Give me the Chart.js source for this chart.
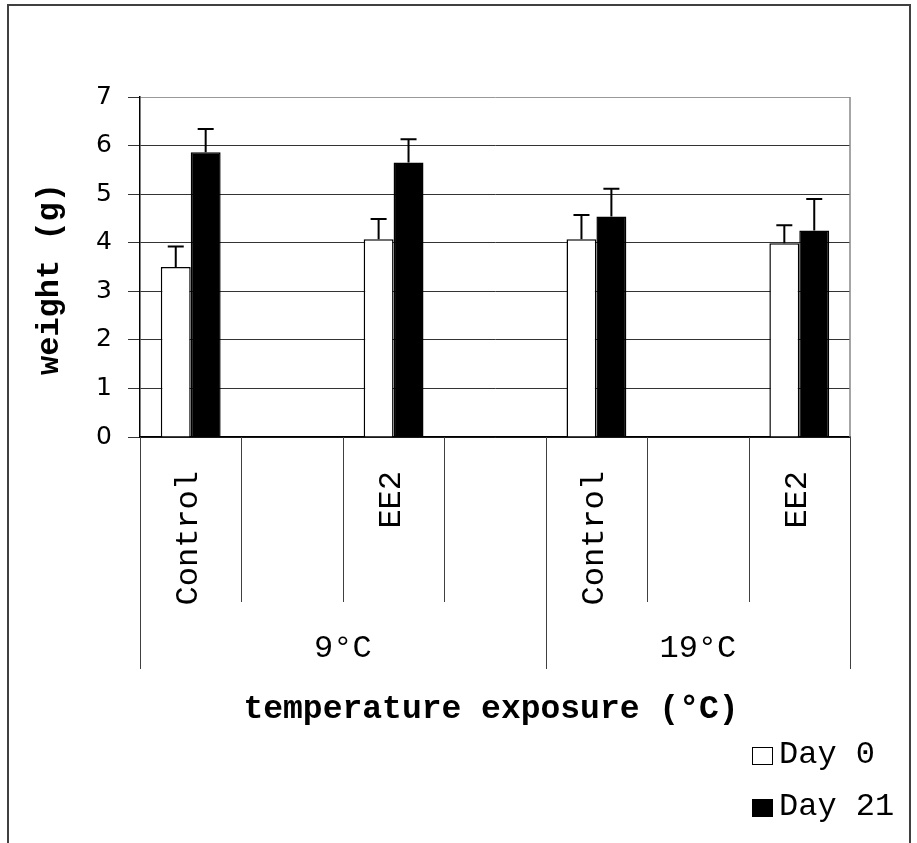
<!DOCTYPE html>
<html>
<head>
<meta charset="utf-8">
<script src="https://cdn.jsdelivr.net/npm/chart.js@4"></script>
<style>
  body { margin: 0; background: #fff; }
</style>
</head>
<body>
<canvas id="weightChart" width="917" height="843"></canvas>
<script>
// Excel-style layout: blank rows between treatments
const treatments = ["Control", "", "EE2", "", "Control", "", "EE2"];
const temperatures = ["9°C", "", "", "", "19°C", "", ""];

const day0 = [3.5, null, 4.07, null, 4.07, null, 3.99];
const day0Err = [0.42, null, 0.42, null, 0.5, null, 0.37];
const day21 = [5.86, null, 5.65, null, 4.54, null, 4.25];
const day21Err = [0.48, null, 0.48, null, 0.57, null, 0.65];

const yTicks = [0, 1, 2, 3, 4, 5, 6, 7];

const mono = "'Liberation Mono', 'Courier New', monospace";

// error bars (upper half only)
const errorBars = {
  id: "errorBars",
  afterDatasetsDraw(chart) {
    const ctx = chart.ctx;
    const y = chart.scales.y;
    ctx.save();
    ctx.strokeStyle = "#000";
    ctx.lineWidth = 2;
    chart.data.datasets.forEach((ds, i) => {
      const meta = chart.getDatasetMeta(i);
      meta.data.forEach((bar, j) => {
        const v = ds.data[j];
        if (v == null) return;
        const top = y.getPixelForValue(v + ds.errors[j]);
        ctx.beginPath();
        ctx.moveTo(bar.x, bar.y);
        ctx.lineTo(bar.x, top);
        ctx.moveTo(bar.x - 8, top);
        ctx.lineTo(bar.x + 8, top);
        ctx.stroke();
      });
    });
    ctx.restore();
  },
};

// category rows, titles, legend, frame
const annotations = {
  id: "annotations",
  afterDraw(chart) {
    const ctx = chart.ctx;
    const x = chart.scales.x;
    const area = chart.chartArea;
    const n = treatments.length;
    ctx.save();

    // outer frame
    ctx.strokeStyle = "#404040";
    ctx.lineWidth = 2;
    ctx.strokeRect(8, 5, 902, 900);

    // plot area right edge
    ctx.strokeStyle = "#888";
    ctx.lineWidth = 1.5;
    ctx.beginPath();
    ctx.moveTo(area.right, area.top);
    ctx.lineTo(area.right, area.bottom);
    ctx.stroke();

    // slot dividers
    ctx.strokeStyle = "#404040";
    ctx.lineWidth = 1;
    for (let i = 0; i <= n; i++) {
      const px = Math.round(x.getPixelForValue(i - 0.5)) + 0.5;
      ctx.beginPath();
      ctx.moveTo(px, area.bottom);
      ctx.lineTo(px, 602);
      ctx.stroke();
    }

    // treatment labels, rotated
    ctx.fillStyle = "#000";
    ctx.font = "32px " + mono;
    treatments.forEach((t, i) => {
      if (!t) return;
      ctx.save();
      ctx.translate(x.getPixelForValue(i) - 2, 471);
      ctx.rotate(-Math.PI / 2);
      ctx.textAlign = "right";
      ctx.textBaseline = "middle";
      ctx.fillText(t, 0, 0);
      ctx.restore();
    });

    // temperature groups
    const starts = [];
    temperatures.forEach((t, i) => { if (t) starts.push(i); });
    starts.forEach((s, k) => {
      const e = k + 1 < starts.length ? starts[k + 1] : n;
      const x0 = x.getPixelForValue(s - 0.5);
      const x1 = x.getPixelForValue(e - 0.5);
      [x0, x1].forEach((px) => {
        const p = Math.round(px) + 0.5;
        ctx.beginPath();
        ctx.moveTo(p, area.bottom);
        ctx.lineTo(p, 669);
        ctx.stroke();
      });
      ctx.textAlign = "center";
      ctx.textBaseline = "alphabetic";
      ctx.fillText(temperatures[s], (x0 + x1) / 2, 657);
    });

    // axis titles
    ctx.font = "bold 33px " + mono;
    ctx.textAlign = "center";
    ctx.fillText("temperature exposure (°C)", 491, 718);

    ctx.save();
    ctx.font = "bold 32px " + mono;
    ctx.translate(50, 279);
    ctx.rotate(-Math.PI / 2);
    ctx.textBaseline = "middle";
    ctx.fillText("weight (g)", 0, 0);
    ctx.restore();

    // legend
    ctx.font = "32px " + mono;
    ctx.textAlign = "left";
    ctx.textBaseline = "alphabetic";
    chart.data.datasets.forEach((ds, i) => {
      const base = 763 + i * 52;
      ctx.fillStyle = ds.backgroundColor;
      ctx.fillRect(752, base - 16, 20, 17);
      ctx.strokeStyle = "#000";
      ctx.lineWidth = 1;
      ctx.strokeRect(752.5, base - 15.5, 20, 17);
      ctx.fillStyle = "#000";
      ctx.fillText(ds.label, 779, base);
    });

    ctx.restore();
  },
};

new Chart(document.getElementById("weightChart"), {
  type: "bar",
  data: {
    labels: treatments,
    datasets: [
      {
        label: "Day 0",
        data: day0,
        errors: day0Err,
        backgroundColor: "#ffffff",
        borderColor: "#000000",
        borderWidth: 1.5,
      },
      {
        label: "Day 21",
        data: day21,
        errors: day21Err,
        backgroundColor: "#000000",
        borderColor: "#000000",
        borderWidth: 1.5,
      },
    ],
  },
  options: {
    responsive: false,
    animation: false,
    categoryPercentage: 0.59,
    barPercentage: 1,
    layout: { padding: { top: 97, right: 67, left: 0, bottom: 0 } },
    plugins: {
      legend: { display: false },
      tooltip: { enabled: false },
    },
    scales: {
      x: {
        ticks: { display: false },
        grid: { display: false },
        border: { display: true, color: "#000", width: 1.5 },
        afterFit: (scale) => { scale.height = 406; },
      },
      y: {
        min: 0,
        max: 7,
        afterBuildTicks: (scale) => {
          scale.ticks = yTicks.map((v) => ({ value: v }));
        },
        ticks: {
          color: "#000",
          padding: 16,
          font: { family: "'DejaVu Sans', sans-serif", size: 25 },
        },
        grid: {
          color: (c) => (c.tick && c.tick.value === 7 ? "#999" : "#333"),
          tickColor: "#333",
          tickLength: 12,
        },
        border: { display: true, color: "#000", width: 1.5 },
        afterFit: (scale) => { scale.width = 140; },
      },
    },
  },
  plugins: [errorBars, annotations],
});
</script>
</body>
</html>
